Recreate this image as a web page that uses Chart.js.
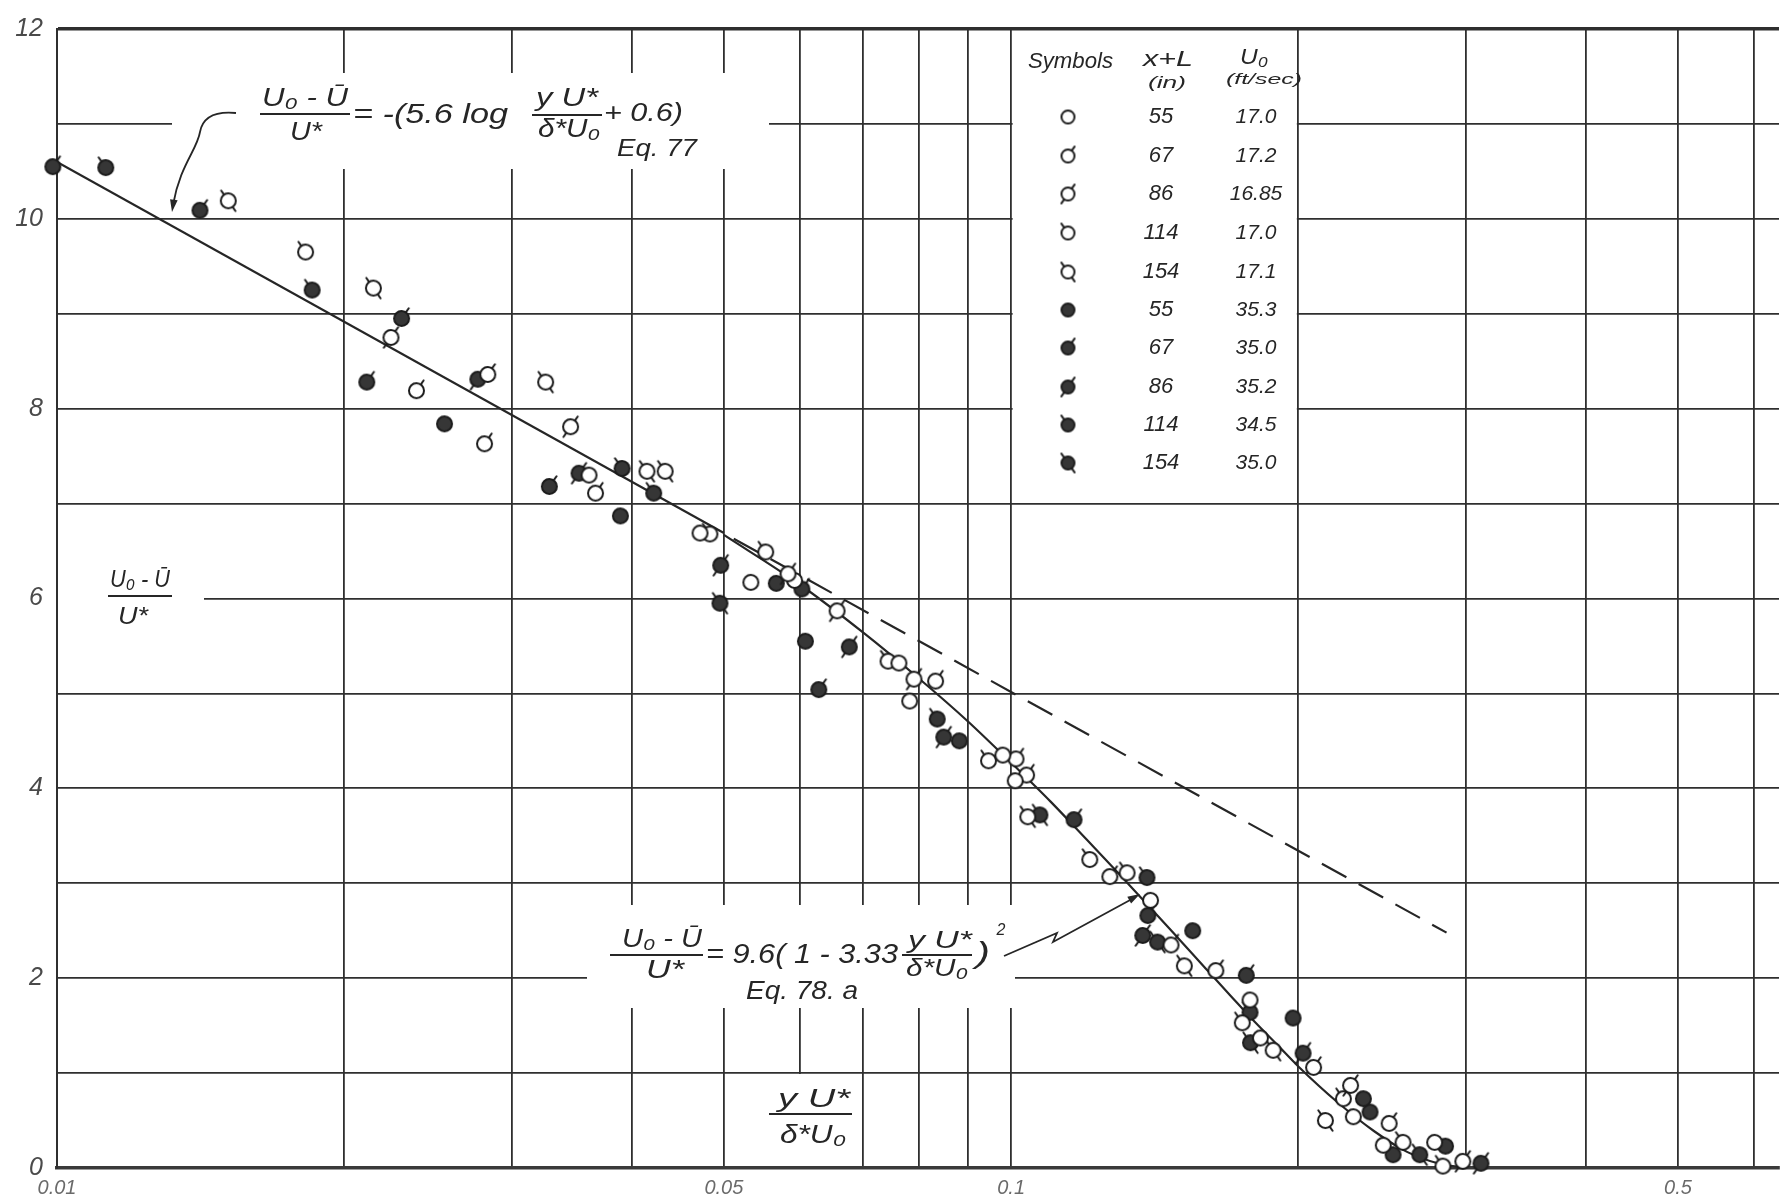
<!DOCTYPE html>
<html>
<head>
<meta charset="utf-8">
<script src="https://cdn.jsdelivr.net/npm/chart.js@4.4.1/dist/chart.umd.min.js"></script>
<style>
  html, body { margin: 0; padding: 0; background: #ffffff; }
  canvas { display: block; }
</style>
</head>
<body>
<canvas id="velChart" width="1788" height="1198"></canvas>
<script>
// axis grid and labels
var xGrid = [0.01, 0.02, 0.03, 0.04, 0.05, 0.06, 0.07, 0.08, 0.09, 0.1, 0.2, 0.3, 0.4, 0.5, 0.6];
var xLabelAt = [0.01, 0.05, 0.1, 0.5];
var xLabelText = ['0.01', '0.05', '0.1', '0.5'];
var yLabelAt = [0, 2, 4, 6, 8, 10, 12];

// legend table
var xPlusL = ['55', '67', '86', '114', '154', '55', '67', '86', '114', '154'];
var u0Vals = ['17.0', '17.2', '16.85', '17.0', '17.1', '35.3', '35.0', '35.2', '34.5', '35.0'];

// open symbols, U0 ~ 17 ft/sec
var o55x = [0.03611, 0.0472, 0.05336, 0.07628, 0.0783, 0.09802, 0.101, 0.14, 0.178, 0.1825, 0.2284, 0.2455, 0.2779];
var o55y = [7.30, 6.69, 6.17, 5.32, 4.92, 4.35, 4.08, 2.82, 1.77, 1.37, 0.54, 0.24, 0.27];
var o67x = [0.02381, 0.02828, 0.02806, 0.03668, 0.08334, 0.1012, 0.1269, 0.1471, 0.1639, 0.2075, 0.249];
var o67y = [8.19, 8.36, 7.63, 7.11, 5.13, 4.31, 3.07, 2.35, 2.08, 1.06, 0.47];
var o86x = [0.02239, 0.03454, 0.05837, 0.06571, 0.0791, 0.1038, 0.2269, 0.2975];
var o86y = [8.75, 7.81, 6.26, 5.87, 5.15, 4.14, 0.87, 0.07];
var o114x = [0.01822, 0.04834, 0.05531, 0.0593, 0.0743, 0.09469, 0.1209, 0.1323, 0.1747, 0.223, 0.2575, 0.2835];
var o114y = [9.65, 6.68, 6.49, 6.19, 5.34, 4.29, 3.25, 3.11, 1.53, 0.73, 0.27, 0.02];
var o154x = [0.01512, 0.02146, 0.03252, 0.04153, 0.04339, 0.1041, 0.1519, 0.1882, 0.2135];
var o154y = [10.19, 9.27, 8.28, 7.34, 7.34, 3.70, 2.13, 1.24, 0.50];

// filled symbols, U0 ~ 35 ft/sec
var f55x = [0.02548, 0.03895, 0.05674, 0.06087, 0.08826, 0.155, 0.1975, 0.234, 0.2853];
var f55y = [7.84, 6.87, 6.16, 5.55, 4.50, 2.50, 1.58, 0.73, 0.23];
var f67x = [0.0099, 0.01412, 0.02297, 0.02112, 0.03281, 0.06036, 0.06287, 0.1164, 0.1391, 0.1764, 0.2514];
var f67y = [10.55, 10.09, 8.95, 8.28, 7.18, 6.10, 5.04, 3.67, 2.66, 2.03, 0.14];
var f86x = [0.02761, 0.03525, 0.04962, 0.06767, 0.085, 0.1374, 0.2023, 0.3108];
var f86y = [8.31, 7.32, 6.35, 5.49, 4.54, 2.45, 1.21, 0.05];
var f114x = [0.01125, 0.01851, 0.03911, 0.04221, 0.08367, 0.1388, 0.178, 0.2378];
var f114y = [10.54, 9.25, 7.37, 7.11, 4.73, 3.06, 1.64, 0.59];
var f154x = [0.04953, 0.1072, 0.1424, 0.1782, 0.2681];
var f154y = [5.95, 3.72, 2.38, 1.32, 0.14];

// Eq. 77 (log law) and Eq. 78a (parabola)
var eq77x = [0.01, 0.05];
var eq77y = [10.6, 6.69];
var eq77DashX = [0.0512, 0.286];
var eq77DashY = [6.63, 2.48];
var eq78x = [0.05, 0.06, 0.07, 0.08, 0.09, 0.1, 0.11, 0.12, 0.13, 0.14, 0.15, 0.16, 0.17, 0.18, 0.19, 0.2, 0.22, 0.24, 0.26, 0.28, 0.3];
var eq78y = [6.67, 6.15, 5.64, 5.16, 4.71, 4.27, 3.86, 3.46, 3.09, 2.74, 2.41, 2.10, 1.81, 1.54, 1.30, 1.07, 0.69, 0.39, 0.17, 0.05, 0.0];

var INK = '#262626';
var FONT = '"Liberation Sans", "DejaVu Sans", sans-serif';

function makeSymbol(filled, ticks, r) {
  var pad = 7;
  var size = 2 * (r + pad);
  var c = document.createElement('canvas');
  c.width = size;
  c.height = size;
  var g = c.getContext('2d');
  var m = size / 2;
  g.lineWidth = 2;
  g.strokeStyle = '#1c1c1c';
  g.lineCap = 'round';
  ticks.forEach(function (a) {
    var t = a * Math.PI / 180;
    g.beginPath();
    g.moveTo(m + Math.cos(t) * (r - 1), m - Math.sin(t) * (r - 1));
    g.lineTo(m + Math.cos(t) * (r + 5), m - Math.sin(t) * (r + 5));
    g.stroke();
  });
  g.beginPath();
  g.arc(m, m, r, 0, Math.PI * 2);
  g.fillStyle = filled ? '#363636' : '#ffffff';
  g.fill();
  g.stroke();
  return c;
}

var tickSets = [[], [55], [55, 235], [125], [125, 305]];
var bigSym = [], smallSym = [];
for (var i = 0; i < 10; i++) {
  bigSym.push(makeSymbol(i >= 5, tickSets[i % 5], 7.5));
  smallSym.push(makeSymbol(i >= 5, tickSets[i % 5], 6.5));
}

function pts(xs, ys) {
  return xs.map(function (x, k) { return { x: x, y: ys[k] }; });
}

var seriesX = [o55x, o67x, o86x, o114x, o154x, f55x, f67x, f86x, f114x, f154x];
var seriesY = [o55y, o67y, o86y, o114y, o154y, f55y, f67y, f86y, f114y, f154y];

var datasets = [];
for (var s = 0; s < 10; s++) {
  datasets.push({
    type: 'scatter',
    label: xPlusL[s] + ' in, ' + u0Vals[s] + ' ft/sec',
    data: pts(seriesX[s], seriesY[s]),
    pointStyle: bigSym[s],
    pointRadius: 8,
    clip: false
  });
}
datasets.push({
  type: 'line', label: 'Eq. 77', data: pts(eq77x, eq77y),
  borderColor: INK, borderWidth: 2.2, pointRadius: 0, fill: false
});
datasets.push({
  type: 'line', label: 'Eq. 77 extended', data: pts(eq77DashX, eq77DashY),
  borderColor: INK, borderWidth: 2.2, borderDash: [28, 14], pointRadius: 0, fill: false
});
datasets.push({
  type: 'line', label: 'Eq. 78a', data: pts(eq78x, eq78y),
  borderColor: INK, borderWidth: 2.2, pointRadius: 0, fill: false,
  cubicInterpolationMode: 'monotone'
});

function txt(g, s, x, y, size, align) {
  g.font = 'italic ' + size + 'px ' + FONT;
  g.textAlign = align || 'center';
  g.textBaseline = 'middle';
  g.fillText(s, x, y);
}

// text squeezed/stretched to span x1..x2
function fit(g, s, x1, x2, y, size) {
  g.font = 'italic ' + size + 'px ' + FONT;
  g.textAlign = 'left';
  g.textBaseline = 'middle';
  var w = g.measureText(s).width;
  g.save();
  g.translate(x1, y);
  g.scale((x2 - x1) / w, 1);
  g.fillText(s, 0, 0);
  g.restore();
}

function hline(g, x1, x2, y, w) {
  g.beginPath();
  g.lineWidth = w || 2;
  g.moveTo(x1, y);
  g.lineTo(x2, y);
  g.stroke();
}

function arrowHead(g, x, y, ang) {
  g.beginPath();
  g.moveTo(x, y);
  g.lineTo(x - 13 * Math.cos(ang - 0.3), y - 13 * Math.sin(ang - 0.3));
  g.lineTo(x - 13 * Math.cos(ang + 0.3), y - 13 * Math.sin(ang + 0.3));
  g.closePath();
  g.fill();
}

var notes = {
  id: 'notes',
  beforeDatasetsDraw: function (chart) {
    var g = chart.ctx;
    var xs = chart.scales.x, ys = chart.scales.y;
    g.save();
    g.fillStyle = '#ffffff';
    // white patches behind the lettering
    g.fillRect(172, 73, 597, 96);
    g.fillRect(58, 560, 146, 72);
    g.fillRect(587, 905, 428, 103);
    g.fillRect(760, 1074, 100, 92);
    var lx1 = xs.getPixelForValue(0.1) + 1.5, lx2 = xs.getPixelForValue(0.2) - 1.5;
    var ly1 = ys.getPixelForValue(12) + 2, ly2 = ys.getPixelForValue(7) - 1.5;
    g.fillRect(lx1, ly1, lx2 - lx1, ly2 - ly1);

    g.fillStyle = INK;
    g.strokeStyle = INK;

    // Eq. 77
    fit(g, 'U\u2080 - \u016A', 262, 348, 99, 26);
    hline(g, 260, 350, 114);
    fit(g, 'U*', 290, 322, 133, 26);
    fit(g, '= -(5.6 log', 353, 508, 115, 27);
    fit(g, 'y U*', 536, 598, 99, 25);
    hline(g, 532, 602, 115);
    fit(g, '\u03B4*U\u2080', 538, 600, 130, 25);
    fit(g, '+ 0.6)', 604, 683, 114, 26);
    fit(g, 'Eq. 77', 617, 697, 149, 24);
    g.lineWidth = 1.8;
    g.beginPath();
    g.moveTo(236, 113);
    g.quadraticCurveTo(204, 110, 200, 132);
    g.bezierCurveTo(197, 150, 180, 165, 173, 205);
    g.stroke();
    arrowHead(g, 172, 212, Math.PI / 2 + 0.15);

    // y axis title
    fit(g, 'U\u2080 - \u016A', 110, 170, 580, 24);
    hline(g, 108, 172, 596);
    fit(g, 'U*', 118, 148, 617, 24);

    // Eq. 78a
    fit(g, 'U\u2080 - \u016A', 622, 702, 940, 25);
    hline(g, 610, 703, 955);
    fit(g, 'U*', 646, 684, 971, 25);
    fit(g, '= 9.6( 1 - 3.33', 706, 898, 955, 27);
    fit(g, 'y U*', 908, 972, 941, 24);
    hline(g, 902, 972, 955);
    fit(g, '\u03B4*U\u2080', 906, 968, 969, 24);
    fit(g, ')', 976, 990, 955, 30);
    txt(g, '2', 1001, 931, 16);
    fit(g, 'Eq. 78. a', 746, 858, 992, 25);
    g.lineWidth = 1.8;
    g.beginPath();
    g.moveTo(1004, 956);
    g.lineTo(1057, 933);
    g.lineTo(1053, 942);
    g.lineTo(1132, 899);
    g.stroke();
    arrowHead(g, 1140, 894, -0.52);

    // x axis title
    fit(g, 'y U*', 778, 850, 1100, 25);
    hline(g, 769, 852, 1114);
    fit(g, '\u03B4*U\u2080', 780, 846, 1136, 25);

    // legend table
    fit(g, 'Symbols', 1028, 1113, 62, 22);
    fit(g, 'x+L', 1143, 1193, 60, 22);
    fit(g, '(in)', 1148, 1186, 83, 17);
    fit(g, 'U\u2080', 1240, 1268, 58, 22);
    fit(g, '(ft/sec)', 1226, 1302, 80, 15);
    var rowY = [117, 156, 194, 233, 272, 310, 348, 387, 425, 463];
    for (var k = 0; k < 10; k++) {
      var sym = smallSym[k];
      g.drawImage(sym, 1068 - sym.width / 2, rowY[k] - sym.height / 2);
      txt(g, xPlusL[k], 1161, rowY[k], 22);
      txt(g, u0Vals[k], 1256, rowY[k], 21);
    }
    g.restore();
  }
};

var ctx = document.getElementById('velChart').getContext('2d');
var velChart = new Chart(ctx, {
  data: { datasets: datasets },
  plugins: [notes],
  options: {
    responsive: false,
    animation: false,
    devicePixelRatio: 1,
    layout: { padding: { top: 18, right: 0, bottom: 0, left: 0 } },
    plugins: { legend: { display: false }, tooltip: { enabled: false } },
    scales: {
      x: {
        type: 'logarithmic',
        min: 0.01,
        max: 0.638,
        afterBuildTicks: function (sc) {
          sc.ticks = xGrid.map(function (v) { return { value: v }; });
        },
        afterFit: function (sc) { sc.height = 30; },
        grid: { color: '#2f2f2f', lineWidth: 1.8, drawTicks: false },
        border: { color: '#3a3a3a', width: 3.5 },
        ticks: {
          autoSkip: false,
          maxRotation: 0,
          padding: 8,
          color: '#6a6a6a',
          font: { family: FONT, style: 'italic', size: 20 },
          callback: function (v) {
            for (var k = 0; k < xLabelAt.length; k++) {
              if (Math.abs(v - xLabelAt[k]) < 1e-9) return xLabelText[k];
            }
            return '';
          }
        }
      },
      y: {
        min: 0,
        max: 12,
        afterFit: function (sc) { sc.width = 57; },
        grid: {
          color: '#2f2f2f',
          drawTicks: false,
          lineWidth: function (c) { return c.tick && c.tick.value === 12 ? 3.5 : 1.8; }
        },
        border: { color: '#2f2f2f', width: 2 },
        ticks: {
          stepSize: 1,
          autoSkip: false,
          padding: 14,
          color: '#4a4a4a',
          font: { family: FONT, style: 'italic', size: 25 },
          callback: function (v) { return yLabelAt.indexOf(v) >= 0 ? String(v) : ''; }
        }
      }
    }
  }
});
</script>
</body>
</html>
